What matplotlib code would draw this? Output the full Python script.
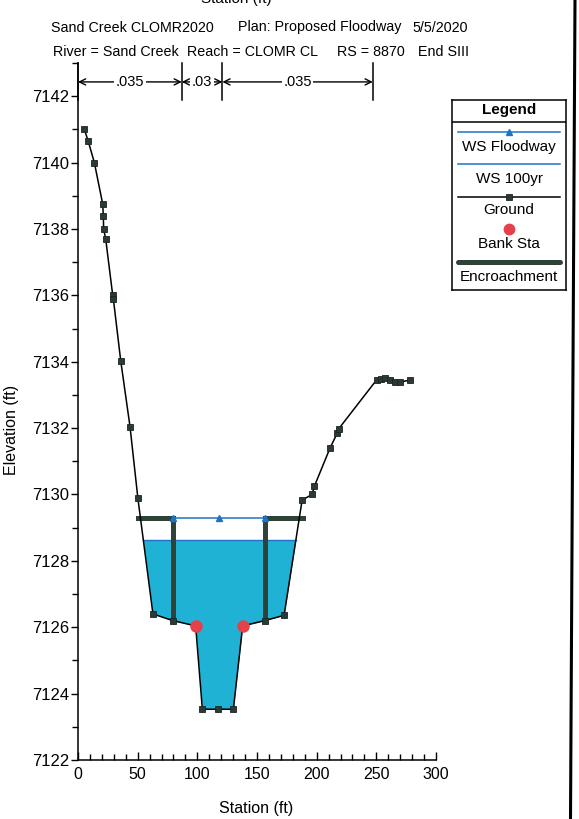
import numpy as np
import matplotlib
matplotlib.use("Agg")
import matplotlib.pyplot as plt
from matplotlib.lines import Line2D
from matplotlib.ticker import MultipleLocator

plt.rcParams['font.family'] = ['Liberation Sans', 'DejaVu Sans']

# ---- cross-section data ----
ground_sta = [5.3, 8.6, 13.7, 20.7, 21.2, 21.5, 23.2, 29.1, 29.6, 35.8, 43.6, 50.2,
              62.8, 79.4, 98.6, 104.2, 117.4, 130.2, 138.0, 156.5, 172.7, 187.8,
              196.1, 198.1, 211.2, 217.4, 218.5, 250.4, 253.5, 257.5, 261.5, 265.5,
              269.5, 278.3]
ground_elev = [7141.0, 7140.64, 7140.0, 7138.75, 7138.4, 7138.0, 7137.7, 7136.0, 7135.9,
               7134.03, 7132.04, 7129.88, 7126.4, 7126.2, 7126.04, 7123.53, 7123.53,
               7123.53, 7126.04, 7126.2, 7126.36, 7129.83, 7130.0, 7130.25, 7131.4,
               7131.86, 7131.98, 7133.46, 7133.48, 7133.5, 7133.45, 7133.4, 7133.38,
               7133.45]

bank_sta = [98.6, 138.0]
bank_elev = [7126.04, 7126.04]

ws_floodway = 7129.3
floodway_sta = [79.9, 118.2, 156.5]
ws_100yr = 7128.63

encr_left = [50.6, 79.9]
encr_right = [156.5, 188.5]

n_sta = [0, 87, 121, 247]
n_vals = [".035", ".03", ".035"]

title_line1 = [("Sand Creek CLOMR2020", 51), ("Plan: Proposed Floodway", 238), ("5/5/2020", 412)]
title_line2 = [("River = Sand Creek", 53), ("Reach = CLOMR CL", 187), ("RS = 8870", 337), ("End SIII", 418)]

# ---- colours ----
c_ground = "black"
c_marker = "#2b3a34"
c_ws = "#1f72c6"
c_fill = "#1fb2d4"
c_bank = "#e5414a"
c_encr = "#2f4238"

W, H = 579, 819
fig = plt.figure(figsize=(W / 100, H / 100), dpi=100)
fig.patch.set_facecolor("white")


def fx(px):
    return px / W


def fy(py):
    return 1 - py / H


ax = fig.add_axes([fx(78), fy(760), fx(436) - fx(78), fy(63) - fy(760)])
ax.set_xlim(0, 300)
ax.set_ylim(7122, 7143)

gs = np.array(ground_sta)
ge = np.array(ground_elev)

# water surface 100yr fill
ax.fill_between(gs, ge, ws_100yr, where=ge < ws_100yr, interpolate=True,
                color=c_fill, lw=0, zorder=1)


def crossings(level):
    pts = []
    for i in range(len(gs) - 1):
        a, b = ge[i] - level, ge[i + 1] - level
        if a * b < 0:
            t = a / (a - b)
            pts.append(gs[i] + t * (gs[i + 1] - gs[i]))
    return pts


xc = crossings(ws_100yr)
ax.plot([xc[0], xc[-1]], [ws_100yr, ws_100yr], color=c_ws, lw=1, zorder=2)

# encroachments
y_left_toe = np.interp(encr_left[1], gs, ge)
y_right_toe = np.interp(encr_right[0], gs, ge)
ax.plot([encr_left[0], encr_left[1], encr_left[1]],
        [ws_floodway, ws_floodway, y_left_toe],
        color=c_encr, lw=3.6, solid_joinstyle="miter", zorder=3)
ax.plot([encr_right[1], encr_right[0], encr_right[0]],
        [ws_floodway, ws_floodway, y_right_toe],
        color=c_encr, lw=3.6, solid_joinstyle="miter", zorder=3)

# floodway water surface
ax.plot(floodway_sta, [ws_floodway] * len(floodway_sta), color=c_ws, lw=1.1,
        marker="^", markersize=5, markerfacecolor=c_ws, markeredgecolor=c_ws, zorder=4)

# ground
ax.plot(gs, ge, color=c_ground, lw=1.1, marker="s", markersize=5.0,
        markerfacecolor=c_marker, markeredgecolor="#1a2420", markeredgewidth=0.6, zorder=5)

# bank stations
ax.plot(bank_sta, bank_elev, linestyle="none", marker="o", markersize=8,
        markerfacecolor=c_bank, markeredgecolor=c_bank, zorder=6)

# n-value breaks
bar_lo, bar_hi = 7141.88, 7143.0
y_arr = 7142.43
for s in n_sta:
    ax.plot([s, s], [bar_lo, bar_hi], color="black", lw=1.1, clip_on=False, zorder=7)
for i, nv in enumerate(n_vals):
    x0, x1 = n_sta[i], n_sta[i + 1]
    ax.annotate("", xy=(x1, y_arr), xytext=(x0, y_arr),
                arrowprops=dict(arrowstyle="<->", lw=1.0, color="black",
                                shrinkA=0, shrinkB=0, mutation_scale=11),
                annotation_clip=False, zorder=7)
    ax.text((x0 + x1) / 2, y_arr, nv, ha="center", va="center", fontsize=10.5,
            bbox=dict(facecolor="white", edgecolor="none", pad=1.2), zorder=8, clip_on=False)

# axes styling
for side in ("top", "right"):
    ax.spines[side].set_visible(False)
for side in ("left", "bottom"):
    ax.spines[side].set_linewidth(1.1)
ax.xaxis.set_major_locator(MultipleLocator(50))
ax.xaxis.set_minor_locator(MultipleLocator(10))
ax.yaxis.set_major_locator(MultipleLocator(2))
ax.yaxis.set_minor_locator(MultipleLocator(1))
ax.tick_params(axis="x", which="major", direction="in", length=6, width=1, labelsize=11.5, pad=5)
ax.tick_params(axis="x", which="minor", direction="in", length=4, width=1)
ax.tick_params(axis="y", which="major", direction="out", length=5, width=1, labelsize=12, pad=1.5)
ax.tick_params(axis="y", which="minor", direction="out", length=4, width=1)
ax.ticklabel_format(useOffset=False, style="plain")

fig.text(fx(256), fy(809), "Station (ft)", ha="center", va="center", fontsize=11.5)
fig.text(fx(12), fy(430), "Elevation (ft)", ha="center", va="center", fontsize=11.5, rotation=90)
fig.text(fx(236), fy(3), "Station (ft)", ha="center", va="baseline", fontsize=11)

for txt, px in title_line1:
    fig.text(fx(px), fy(31.5), txt, ha="left", va="baseline", fontsize=10.3)
for txt, px in title_line2:
    fig.text(fx(px), fy(56), txt, ha="left", va="baseline", fontsize=10.3)

# legend panel
lx0, lx1, ly0, ly1 = 452, 566, 100, 290
lax = fig.add_axes([fx(lx0), fy(ly1), fx(lx1) - fx(lx0), fy(ly0) - fy(ly1)])
lax.set_xlim(lx0, lx1)
lax.set_ylim(ly1, ly0)
lax.set_xticks([])
lax.set_yticks([])
for sp in lax.spines.values():
    sp.set_linewidth(1.1)
lax.text((lx0 + lx1) / 2, 110, "Legend", ha="center", va="center", fontsize=11, fontweight="bold")
lax.plot([lx0, lx1], [121.7, 121.7], color="black", lw=1.1)
lx_a, lx_b, lx_c = 458, 560, 509
lax.plot([lx_a, lx_b], [132.3, 132.3], color=c_ws, lw=1.1)
lax.plot([lx_c], [131.8], marker="^", markersize=5, color=c_ws)
lax.text(lx_c, 146.7, "WS Floodway", ha="center", va="center", fontsize=11)
lax.plot([lx_a, lx_b], [164, 164], color=c_ws, lw=1.1)
lax.text(lx_c, 179.3, "WS 100yr", ha="center", va="center", fontsize=11)
lax.plot([lx_a, lx_b], [197.3, 197.3], color="black", lw=1.1)
lax.plot([lx_c], [197.3], marker="s", markersize=5.0, markerfacecolor=c_marker,
         markeredgecolor="#1a2420", markeredgewidth=0.6)
lax.text(lx_c, 210, "Ground", ha="center", va="center", fontsize=11)
lax.plot([lx_c], [229], marker="o", markersize=7.5, color=c_bank)
lax.text(lx_c, 244, "Bank Sta", ha="center", va="center", fontsize=11)
lax.plot([lx_a, lx_b], [262.3, 262.3], color=c_encr, lw=3.6, solid_capstyle="round")
lax.text(lx_c, 276.7, "Encroachment", ha="center", va="center", fontsize=11)

# page edge line on the right
fig.add_artist(Line2D([fx(575), fx(570.5)], [1, 0], color="black", lw=2.2))

fig.savefig("out.png", dpi=100)
